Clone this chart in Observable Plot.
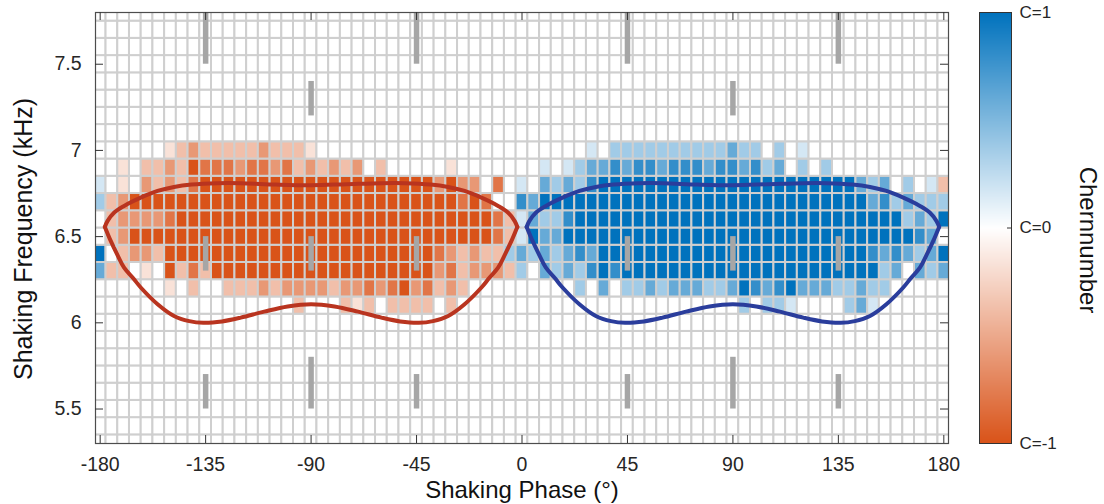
<!DOCTYPE html>
<html><head><meta charset="utf-8">
<script src="https://cdn.jsdelivr.net/npm/d3@7"></script>
<script src="https://cdn.jsdelivr.net/npm/@observablehq/plot@0.6"></script>
<style>
html,body{margin:0;padding:0;background:#fff;}
#wrap{position:relative;width:1104px;height:504px;}
#main{position:absolute;left:0;top:0;}
#cbar{position:absolute;left:960px;top:0;}
</style></head>
<body><div id="wrap"><div id="main"></div><div id="cbar"></div></div>
<script>
// ---- categories ----
const phases = [-180,-175,-170,-165,-160,-155,-150,-145,-140,-135,-130,-125,-120,-115,-110,-105,-100,-95,-90,-85,-80,-75,-70,-65,-60,-55,-50,-45,-40,-35,-30,-25,-20,-15,-10,-5,0,5,10,15,20,25,30,35,40,45,50,55,60,65,70,75,80,85,90,95,100,105,110,115,120,125,130,135,140,145,150,155,160,165,170,175,180];
const freqs = [5.3,5.4,5.5,5.6,5.7,5.8,5.9,6.0,6.1,6.2,6.3,6.4,6.5,6.6,6.7,6.8,6.9,7.0,7.1,7.2,7.3,7.4,7.5,7.6,7.7,7.8];
const xTicks = [-180,-135,-90,-45,0,45,90,135,180];
const yTicks = [5.5,6,6.5,7,7.5];
const cbTicks = [-1,0,1];
const cbLabels = ["C=-1","C=0","C=1"];

// ---- Chern number per cell (one char per phase column, -180..180) ----
// . = 0 ; a..e = -0.17..-1 (red) ; A..E = +0.17..+1 (blue)
const levels = {".":0,a:-0.17,b:-0.37,c:-0.6,d:-0.8,e:-1,A:0.17,B:0.37,C:0.6,D:0.8,E:1};
const rowFreqs = [7.0,6.9,6.8,6.7,6.6,6.5,6.4,6.3,6.2,6.1];
const rowCodes = [
  "...... abcbbbbbcbbba .......... .......... ... A. BBBBBBBBBB CBB.B.A .......... ..",
  "..a.bbcbedddcddcdbc bcbc.b.....a...... .A.ABCCDCDDCDDDCD DCDBC.B.B ..........",
  "A.a.cbcbd eeeeeeeeee eeeeeeeeee cecc.d.A .CBCBD EEEEEEEEEE EEEEEEEEEE EE CBC.B.Ab",
  "Bbc eeeeeeeeee eeeeeeeeee eeeeeeee ded.. DC EEEEEEEEEE EEEEEEEEEE EEEEEEEE CDBCBBB",
  ".bccccd eeeeeeeeee eeeeeeeeee eeeeeee dbACBBD EEEEEEEEEE EEEEEEEEEE EEEEEEEE BCBE",
  ".bc eeeeeeeeee eeeeeeeeee eeeeeeeeee e dbAECC EEEEEEEEEE EEEEEEEEEE EEEEEEEEEE DC.",
  "E.bccb eeeeeeeeee eeeeeeeeee eee dcbcbbBCBCBCDC EEEEEEEEEE EEEEEEEEEE EEE DCDCBCE",
  "Cbb.a.ebdb eeeeeeeeee eeeeeeeee cdbcccbB.CBCBDED EEEEEEEEEE EEEEEEEEEE EE BC.CBC",
  "...... a.b..bbbcbcccc bccdcdecdbcb ......... B.C.BBCBCCCBBCEDCDECCCBBCBB .....",
  ".......... ....... b ... bab.bbbb.b .......... .......... .... B.BBA .... BCA ......"
];

// ---- grey marker bars ----
const barPhase = [-135,-45,45,135,-90,90,-135,-90,-45,45,90,135,-135,-90,-45,45,90,135];
const barLow   = [7.5,7.5,7.5,7.5,7.2,7.2,6.3,6.3,6.3,6.3,6.3,6.3,5.5,5.5,5.5,5.5,5.5,5.5];
const barHigh  = [7.8,7.8,7.8,7.8,7.4,7.4,6.5,6.5,6.5,6.5,6.5,6.5,5.7,5.8,5.7,5.7,5.8,5.7];

// ---- contour outlines (phase, kHz) ----
const redUpper = [[-178,6.556],[-176.9,6.59],[-174,6.64],[-169.8,6.678],[-162.7,6.726],[-155.5,6.765],[-148.5,6.788],[-141,6.802],[-130,6.81],[-120,6.81],[-105,6.802],[-90,6.798],[-75,6.804],[-60,6.81],[-50,6.81],[-39,6.802],[-31.5,6.788],[-24.5,6.765],[-17.3,6.726],[-10.2,6.678],[-6,6.64],[-3.1,6.59],[-2,6.556]];
const redLower = [[-178,6.556],[-175.5,6.475],[-172.5,6.39],[-169.8,6.32],[-166,6.26],[-162.7,6.205],[-155.5,6.108],[-148.5,6.04],[-142,6.01],[-136,6.0],[-128,6.008],[-120,6.03],[-110,6.065],[-100,6.095],[-90,6.108],[-80,6.095],[-70,6.065],[-60,6.03],[-52,6.008],[-44,6.0],[-38,6.01],[-31.5,6.04],[-24.5,6.108],[-17.3,6.205],[-14,6.26],[-10.2,6.32],[-7.5,6.39],[-4.5,6.475],[-2,6.556]];
const blueUpper = [[2,6.556],[3.1,6.59],[6,6.64],[10.2,6.678],[17.3,6.726],[24.5,6.765],[31.5,6.788],[39,6.802],[50,6.81],[60,6.81],[75,6.802],[90,6.798],[105,6.804],[120,6.81],[130,6.81],[141,6.802],[148.5,6.788],[155.5,6.765],[162.7,6.726],[169.8,6.678],[174,6.64],[176.9,6.59],[178,6.556]];
const blueLower = [[2,6.556],[4.5,6.475],[7.5,6.39],[10.2,6.32],[14,6.26],[17.3,6.205],[24.5,6.108],[31.5,6.04],[38,6.01],[44,6.0],[52,6.008],[60,6.03],[70,6.065],[80,6.095],[90,6.108],[100,6.095],[110,6.065],[120,6.03],[128,6.008],[136,6.0],[142,6.01],[148.5,6.04],[155.5,6.108],[162.7,6.205],[166,6.26],[169.8,6.32],[172.5,6.39],[175.5,6.475],[178,6.556]];

// ---- build tables ----
const codeByFreq = new Map(rowFreqs.map((f, i) => [f.toFixed(1), rowCodes[i].replace(/ /g, "")]));
const cells = [];
for (const f of freqs) {
  const code = codeByFreq.get(f.toFixed(1)) || "";
  phases.forEach((p, i) => {
    const ch = code[i] || ".";
    cells.push({phase: p, freq: f, value: levels[ch] ?? 0});
  });
}
const bars = barPhase.map((p, i) => ({phase: p, lo: barLow[i], hi: barHigh[i]}));
const toLine = (pts, part) => pts.map(([p, f]) => ({phase: p, freq: f, part}));
const redContour = [...toLine(redUpper, "u"), ...toLine(redLower, "l")];
const blueContour = [...toLine(blueUpper, "u"), ...toLine(blueLower, "l")];

const color = {type: "linear", domain: [-1, 0, 1], range: ["#D95319", "#ffffff", "#0072BD"]};
const font = '"Liberation Sans", Arial, Helvetica, sans-serif';
const style = {fontFamily: font, color: "#262626", background: "transparent", overflow: "visible"};

const main = Plot.plot({
  width: 960, height: 504,
  marginLeft: 95, marginRight: 12, marginTop: 12, marginBottom: 61,
  x: {domain: [-182, 182]},
  y: {domain: [5.3, 7.8]},
  color,
  style,
  marks: [
    Plot.rect(cells, {x1: d => d.phase - 2.5, x2: d => d.phase + 2.5, y1: d => d.freq - 0.05, y2: d => d.freq + 0.05,
      fill: "value", stroke: "#cfcfcf", strokeWidth: 2, clip: true}),
    Plot.ruleX(bars, {x: "phase", y1: "lo", y2: "hi", stroke: "#a6a6a6", strokeWidth: 5.5, clip: true}),
    Plot.line(redContour, {x: "phase", y: "freq", z: "part", stroke: "#b9341f", strokeWidth: 4, curve: "catmull-rom"}),
    Plot.line(blueContour, {x: "phase", y: "freq", z: "part", stroke: "#2a3d9c", strokeWidth: 4, curve: "catmull-rom"}),
    Plot.frame({stroke: "#4d4d4d", strokeWidth: 1.2}),
    Plot.tickX(xTicks, {x: d => d, insetTop: 423, stroke: "#333"}),
    Plot.tickX(xTicks, {x: d => d, insetBottom: 423, stroke: "#333"}),
    Plot.tickY(yTicks, {y: d => d, insetRight: 845, stroke: "#333"}),
    Plot.tickY(yTicks, {y: d => d, insetLeft: 845, stroke: "#333"}),
    Plot.axisX({ticks: xTicks, tickSize: 0, tickPadding: 14, tickFormat: d => String(d), fontSize: 19.5, label: null}),
    Plot.axisY({ticks: yTicks, tickSize: 0, tickPadding: 14, tickFormat: d => String(d), fontSize: 19.5, label: null}),
    Plot.text(["Shaking Phase (°)"], {frameAnchor: "bottom", dy: 47, fontSize: 24, lineAnchor: "middle", textAnchor: "middle", fill: "#111"}),
    Plot.text(["Shaking Frequency (kHz)"], {frameAnchor: "left", dx: -72, dy: 11, rotate: -90, fontSize: 25, lineAnchor: "middle", textAnchor: "middle", fill: "#111"})
  ]
});
document.getElementById("main").appendChild(main);

const cbar = Plot.plot({
  width: 144, height: 504,
  marginLeft: 19, marginRight: 93, marginTop: 12, marginBottom: 61,
  x: {domain: [0, 1], axis: null},
  y: {domain: [-1, 1]},
  color,
  style,
  marks: [
    Plot.raster({fill: (x, y) => y, x1: 0, x2: 1, y1: -1, y2: 1, width: 4, height: 431, imageRendering: "auto"}),
    Plot.frame({stroke: "#333", strokeWidth: 1}),
    Plot.tickY([0], {y: d => d, insetLeft: 28, stroke: "#333"}),
    Plot.axisY({anchor: "right", ticks: cbTicks, tickSize: 0, tickPadding: 8, fontSize: 17,
      tickFormat: d => cbLabels[cbTicks.indexOf(d)], label: null}),
    Plot.text(["Chernnumber"], {frameAnchor: "right", dx: 76, dy: 12, rotate: 90, fontSize: 24, lineAnchor: "middle", textAnchor: "middle", fill: "#111"})
  ]
});
document.getElementById("cbar").appendChild(cbar);
</script>
</body></html>
